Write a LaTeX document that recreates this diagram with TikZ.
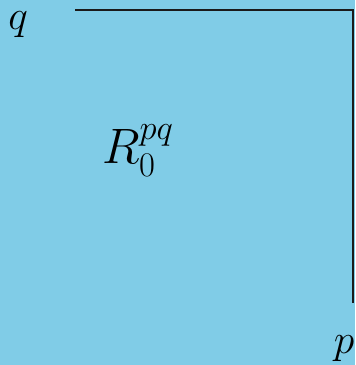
\documentclass[tikz,border=0pt]{standalone}
\usepackage{amsmath}
\usetikzlibrary{positioning,calc}
\definecolor{cfondo}{HTML}{80CCE7}
\definecolor{cborde}{HTML}{1A1A1A}
\tikzset{
  etiq/.style={inner sep=0pt,font=\fontsize{20}{24}\selectfont},
  etiqg/.style={inner sep=0pt,font=\fontsize{23.5}{28}\selectfont},
  borde/.style={draw=cborde,line width=0.55pt},
}
\begin{document}
\begin{tikzpicture}[x=0.5pt,y=-0.5pt]

\fill[cfondo] (0,0) rectangle (355,365);
\useasboundingbox (0,0) rectangle (355,365);

\coordinate (ini) at (75,10);
\coordinate (esq) at (353,10);
\coordinate (fin) at (353,303);

\node[etiq]  (q) at (18,25)   {$q$};
\node[etiq]  (p) at (344,349) {$p$};
\node[etiqg] (R) at (138,151) {$R_0^{pq}$};

\draw[borde] (ini) -- (esq) -- (fin);

\end{tikzpicture}
\end{document}
